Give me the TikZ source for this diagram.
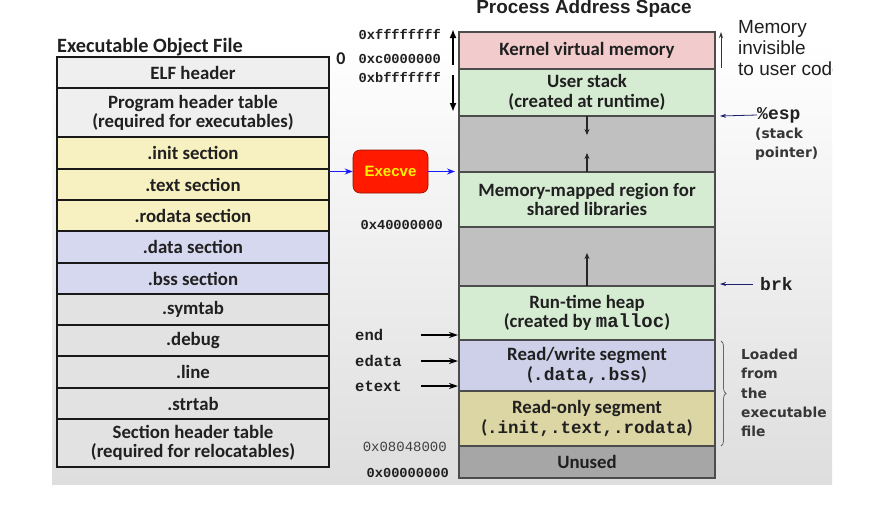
\documentclass[tikz,border=0pt]{standalone}
\usepackage{fontspec}
\setmainfont{Carlito}
\newfontfamily\arialf{Liberation Sans}
\newfontfamily\courf{Liberation Mono}
\newfontfamily\verdf{DejaVu Sans}
\usetikzlibrary{arrows.meta,decorations.pathreplacing}
\definecolor{lgrayA}{HTML}{EFEFEF}
\definecolor{lgrayB}{HTML}{E2E2E2}
\definecolor{lyel}{HTML}{F7F0C0}
\definecolor{llav}{HTML}{D6D8F0}
\definecolor{kpink}{HTML}{F2CCCC}
\definecolor{lgreen}{HTML}{D6ECD2}
\definecolor{gapc}{HTML}{C0C0C0}
\definecolor{rwlav}{HTML}{CDD0E8}
\definecolor{khaki}{HTML}{DCD6A5}
\definecolor{unusedc}{HTML}{A6A6A6}
\definecolor{txt}{HTML}{202020}
\definecolor{arrblue}{HTML}{1A1AFF}
\definecolor{exered}{HTML}{FF1A00}
\definecolor{darkblue}{HTML}{202070}
\begin{document}
\begin{tikzpicture}[x=1pt,y=-1pt,
  lcell/.style={draw=black!90, line width=1.6, minimum width=272, inner sep=0, outer sep=0,
    anchor=north west, align=center, text=txt,
    font=\bfseries\fontsize{18.8}{19}\selectfont},
  rcell/.style={draw=black!70, line width=1.1, minimum width=256, inner sep=0, outer sep=0,
    anchor=north west, align=center, text=txt,
    font=\bfseries\fontsize{18.8}{19.5}\selectfont},
  addr/.style={font=\courf\bfseries\fontsize{13.7}{15}\selectfont, inner sep=0, anchor=east, text=txt},
  sym/.style={font=\courf\bfseries\fontsize{15.5}{17}\selectfont, inner sep=0, anchor=west, text=txt},
  regsym/.style={font=\courf\bfseries\fontsize{18}{20}\selectfont, inner sep=0, anchor=west, text=txt},
  note/.style={font=\verdf\bfseries\fontsize{13.8}{19.2}\selectfont, inner sep=0, anchor=north west, align=left, text=txt!90},
  inarr/.style={line width=1.1, black!85, -{Stealth[length=6,width=5]}},
  thickarr/.style={line width=1.8, black, -{Latex[length=9,width=7]}},
  blkarr/.style={line width=1.4, black, -{Stealth[length=9,width=6]}},
  bluearr/.style={line width=1.1, arrblue, -{Stealth[length=8,width=6]}},
  ptrarr/.style={line width=0.8, darkblue, -{Stealth[length=6,width=4]}},
]
\useasboundingbox (0,0) rectangle (878,507);
\fill[white] (0,0) rectangle (878,507);
\shade[top color=white, bottom color=black!13] (52,40) rectangle (832,484);

% ---------- Executable Object File ----------
\node[font=\bfseries\fontsize{20.3}{22}\selectfont, inner sep=0, anchor=base west, text=txt] (eoftitle) at (57,52) {Executable Object File};
\node[lcell, fill=lgrayA, minimum height=31] (elf) at (57,57) {ELF header};
\node[lcell, fill=lgrayA, minimum height=49] (pht) at (57,88) {Program header table\\(required for executables)};
\node[lcell, fill=lyel, minimum height=32] (init) at (57,137) {.init section};
\node[lcell, fill=lyel, minimum height=31] (textsec) at (57,169) {.text section};
\node[lcell, fill=lyel, minimum height=31] (rodata) at (57,200) {.rodata section};
\node[lcell, fill=llav, minimum height=32] (datasec) at (57,231) {.data section};
\node[lcell, fill=llav, minimum height=31] (bss) at (57,263) {.bss section};
\node[lcell, fill=lgrayB, minimum height=31] (symtab) at (57,294) {.symtab};
\node[lcell, fill=lgrayB, minimum height=31] (debug) at (57,325) {.debug};
\node[lcell, fill=lgrayB, minimum height=32] (linesec) at (57,356) {.line};
\node[lcell, fill=lgrayB, minimum height=31] (strtab) at (57,388) {.strtab};
\node[lcell, fill=lgrayB, minimum height=48] (sht) at (57,419) {Section header table\\(required for relocatables)};
\node[font=\bfseries\fontsize{18}{18}\selectfont, inner sep=0, text=txt] (zero) at (341,59) {0};

% ---------- Process Address Space ----------
\node[font=\arialf\bfseries\fontsize{18.9}{20}\selectfont, inner sep=0, text=txt] (pastitle) at (584,9) {Process Address Space};
\node[rcell, fill=kpink, minimum height=37] (kern) at (459,32) {Kernel virtual memory};
\node[rcell, fill=lgreen, minimum height=47] (ustack) at (459,69) {User stack\\(created at runtime)};
\node[rcell, fill=gapc, minimum height=56] (gapA) at (459,116) {};
\node[rcell, fill=lgreen, minimum height=55] (mmap) at (459,172) {Memory-mapped region for\\shared libraries};
\node[rcell, fill=gapc, minimum height=59] (gapB) at (459,227) {};
\node[rcell, fill=lgreen, minimum height=54] (heap) at (459,286) {Run-time heap\\(created by {\courf\fontsize{19}{19}\selectfont malloc})};
\node[rcell, fill=rwlav, minimum height=51] (rw) at (459,340) {Read/write segment\\({\courf\fontsize{18}{19}\selectfont .data,.bss})};
\node[rcell, fill=khaki, minimum height=55] (ro) at (459,391) {Read-only segment\\({\courf\fontsize{17.5}{19}\selectfont .init,.text,.rodata})};
\node[rcell, fill=unusedc, minimum height=32] (unused) at (459,446) {Unused};

\coordinate (tA) at (587,135);
\coordinate (tB) at (587,153);
\coordinate (tC) at (587,253);
\draw[inarr] (ustack.south) -- (tA);
\draw[inarr] (mmap.north) -- (tB);
\draw[inarr] (heap.north) -- (tC);

% addresses
\node[addr] (aF) at (441,34) {0xffffffff};
\node[addr] (aC) at (441,59) {0xc0000000};
\node[addr] (aB) at (441,77) {0xbfffffff};
\node[addr] (a4) at (443,225) {0x40000000};
\node[addr, font=\courf\fontsize{14}{15}\selectfont, text=black!75] (a08) at (447,447) {0x08048000};
\node[addr] (a0) at (449,473) {0x00000000};

\coordinate (upS) at (453,65);
\coordinate (upT) at (453,29);
\coordinate (dnS) at (453,75);
\coordinate (dnT) at (453,112);
\draw[thickarr] (upS) -- (upT);
\draw[thickarr] (dnS) -- (dnT);

% end / edata / etext
\node[sym] (endl) at (355,335) {end};
\node[sym] (edatal) at (355,361) {edata};
\node[sym] (etextl) at (355,386) {etext};
\coordinate (endS) at (421,335);   \coordinate (endT) at (458,335);
\coordinate (edS) at (421,361);    \coordinate (edT) at (458,361);
\coordinate (etS) at (421,386);    \coordinate (etT) at (458,386);
\draw[blkarr] (endS) -- (endT);
\draw[blkarr] (edS) -- (edT);
\draw[blkarr] (etS) -- (etT);

% Execve
\node[draw=exered!60!black, line width=0.6, fill=exered, rounded corners=7, minimum width=75, minimum height=43,
  inner sep=0, font=\arialf\bfseries\fontsize{15}{17}\selectfont, text=yellow] (exe) at (390.5,171.5) {Execve};
\coordinate (exeT) at (455,171.5);
\draw[bluearr] (exe.west -| textsec.east) -- (exe.west);
\draw[bluearr] (exe.east) -- (exeT);

% right-hand annotations
\coordinate (invS) at (721,68);
\coordinate (invT) at (721,32);
\draw[line width=0.9, black!80, -{Stealth[length=6,width=4]}] (invS) -- (invT);
\begin{scope}
\clip (0,0) rectangle (832,507);
\node[font=\arialf\fontsize{19}{21}\selectfont, inner sep=0, anchor=north west, align=left, text=txt] (invis) at (738,20) {Memory\\invisible\\to user code};
\end{scope}

\node[regsym] (esp) at (757,115) {\%esp};
\coordinate (espT) at (720,116);
\draw[ptrarr] (esp.west) -- (espT);
\node[note] (stackp) at (755,128) {(stack\\pointer)};

\node[regsym] (brk) at (760,284) {brk};
\coordinate (brkS) at (753,284);
\coordinate (brkT) at (720,284);
\draw[ptrarr] (brkS) -- (brkT);

\coordinate (brA) at (721,341);
\coordinate (brB) at (721,446);
\draw[black!60, line width=0.8, decorate, decoration={brace, amplitude=5}] (brA) -- (brB);
\node[note] (loaded) at (741,349) {Loaded\\from\\the\\executable\\file};
\end{tikzpicture}
\end{document}
